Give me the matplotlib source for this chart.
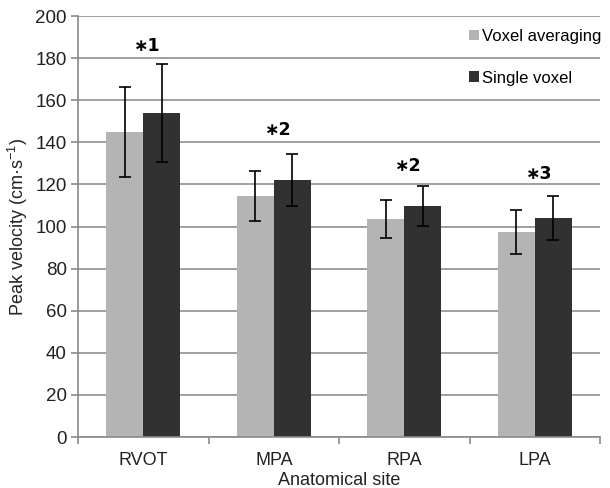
import numpy as np
import matplotlib
matplotlib.use('Agg')
import matplotlib.pyplot as plt

plt.rcParams['font.family'] = ['Liberation Sans', 'DejaVu Sans']
plt.rcParams['mathtext.fontset'] = 'custom'
plt.rcParams['mathtext.rm'] = 'Liberation Sans'

sites = ['RVOT', 'MPA', 'RPA', 'LPA']
voxel_avg = [145, 114.5, 103.5, 97.5]
voxel_avg_sd = [21.5, 11.7, 9.1, 10.5]
single_voxel = [154, 122, 110, 104]
single_voxel_sd = [23.2, 12.4, 9.5, 10.3]
stars = ['∗1', '∗2', '∗2', '∗3']
star_y = [186, 146, 129, 125]

light = '#b4b4b4'
dark = '#313131'
axcol = '#8a8a8a'

fig = plt.figure(figsize=(6.1, 4.88), dpi=100)
ax = fig.add_axes([0.128, 0.1045, 0.856, 0.8625])

x = np.arange(len(sites))
w = 0.283
ax.bar(x - w/2, voxel_avg, w, color=light, zorder=2, label='Voxel averaging')
ax.bar(x + w/2, single_voxel, w, color=dark, zorder=2, label='Single voxel')
ax.errorbar(x - w/2, voxel_avg, yerr=voxel_avg_sd, fmt='none', ecolor='black',
            elinewidth=1.2, capsize=4.5, capthick=1.2, zorder=3)
ax.errorbar(x + w/2, single_voxel, yerr=single_voxel_sd, fmt='none', ecolor='black',
            elinewidth=1.2, capsize=4.5, capthick=1.2, zorder=3)

for xi, s, yy in zip(x, stars, star_y):
    ax.text(xi + 0.03, yy, s, ha='center', va='center', fontsize=12.5,
            family=['DejaVu Sans'], fontweight='semibold')

ax.set_xlim(-0.5, 3.5)
ax.set_ylim(0, 200)
ax.set_yticks(np.arange(0, 201, 20))
ax.yaxis.grid(True, color='#a0a0a0', linewidth=1.4, zorder=0)
ax.set_axisbelow(True)

ax.set_xticks(x)
ax.set_xticklabels(sites)
ax.set_xticks(np.arange(-0.5, 3.6, 1), minor=True)
ax.tick_params(axis='x', which='major', length=0, pad=11, labelsize=13, colors='#222222')
ax.tick_params(axis='x', which='minor', length=5, color=axcol, width=1.2)
ax.tick_params(axis='y', length=5, color=axcol, width=1.2, labelsize=13.5,
               labelcolor='#222222', pad=3)

for side in ['top', 'right']:
    ax.spines[side].set_visible(False)
for side in ['left', 'bottom']:
    ax.spines[side].set_color(axcol)
    ax.spines[side].set_linewidth(1.2)

ax.set_xlabel('Anatomical site', fontsize=13, color='#222222', labelpad=2)
ax.set_ylabel('Peak velocity (cm·s$^{-1}$)', fontsize=13, color='#222222', labelpad=4)

leg = ax.legend(loc='upper right', bbox_to_anchor=(1.03, 1.005), frameon=False,
                fontsize=12, handlelength=0.6, handleheight=0.6,
                handletextpad=0.15, labelspacing=1.6)

fig.savefig('out.png', dpi=100)
